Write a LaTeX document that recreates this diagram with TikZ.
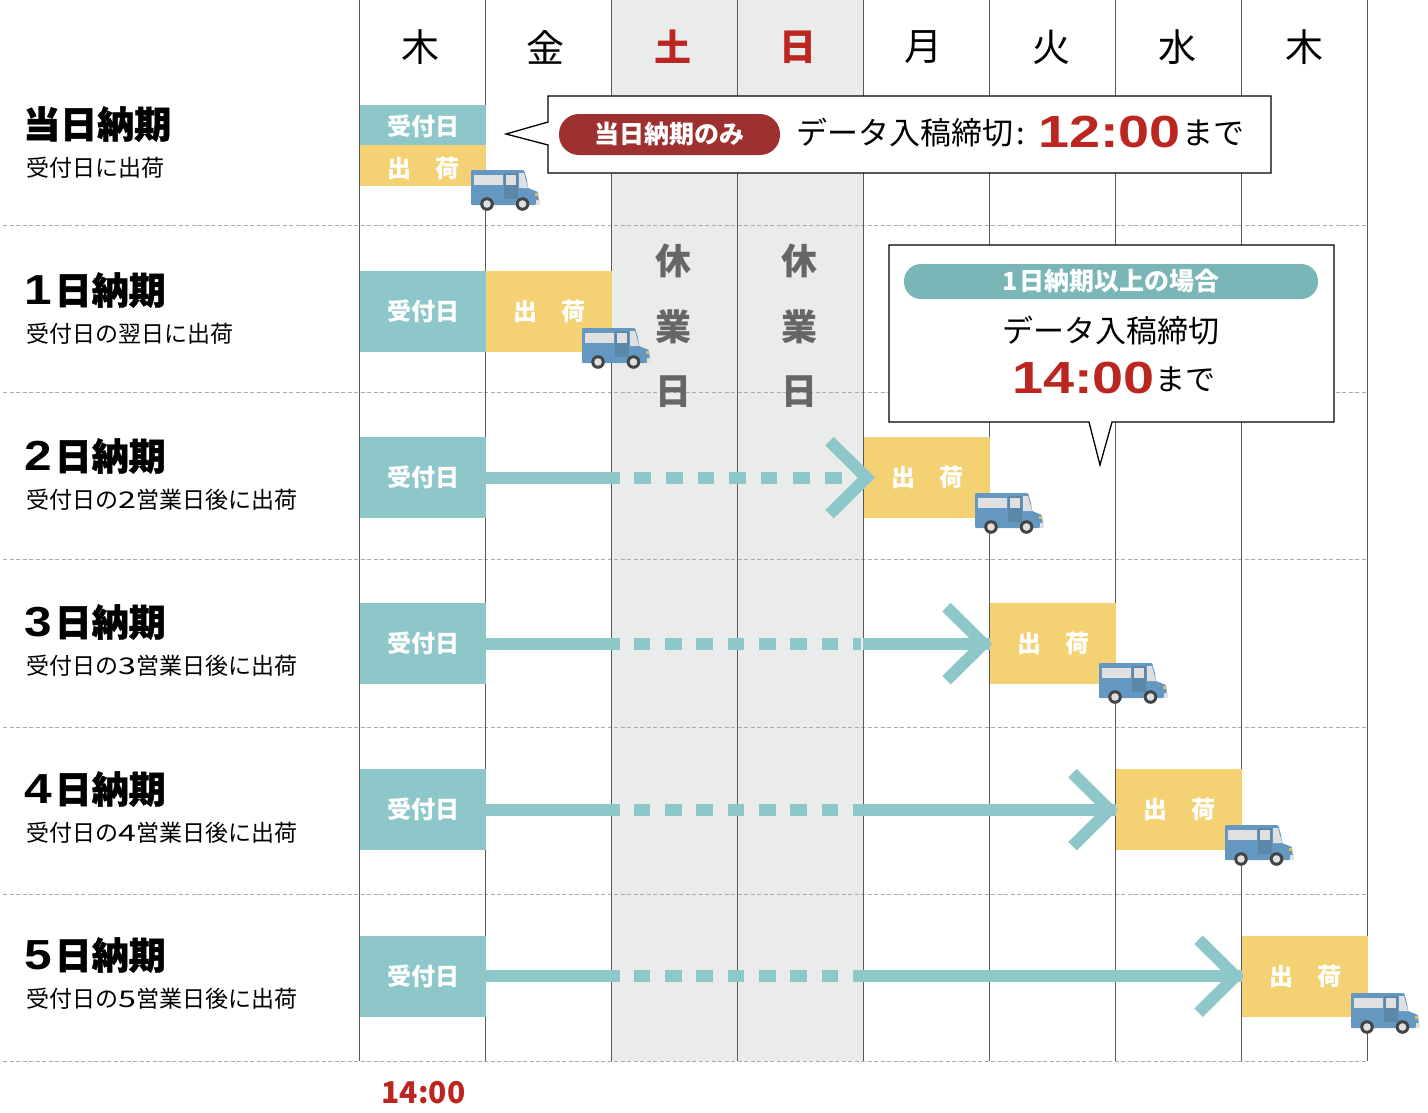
\documentclass[tikz,border=0pt]{standalone}
\usepackage{fontspec}
\setmainfont{Noto Sans CJK JP}
\newfontfamily\cjkh[BoldFeatures={FakeBold=1.2}]{Noto Sans CJK JP}
\newfontfamily\numf{Liberation Sans}
\newcommand\fsz[1]{\fontsize{#1}{#1}\selectfont}
\newcommand\bignum[1]{\textcolor{redtxt}{\numf\bfseries\fsz{45}\scalebox{1.24}[1]{#1}}}
\newcommand\titledigit[1]{{\numf\bfseries\fsz{42}\scalebox{1.18}[1]{#1}}}
\newcommand\subdigit[1]{\scalebox{1.4}[1]{#1}}
\definecolor{teal1}{HTML}{8EC7C9}
\definecolor{teal2}{HTML}{7AB6B8}
\definecolor{yell}{HTML}{F4D274}
\definecolor{greybg}{HTML}{EAECEB}
\definecolor{vline}{HTML}{585858}
\definecolor{hline}{HTML}{ABABAB}
\definecolor{redtxt}{HTML}{BC2620}
\definecolor{pillred}{HTML}{9E3030}
\definecolor{greytxt}{HTML}{666666}
\definecolor{truckb}{HTML}{6498C0}
\definecolor{truckd}{HTML}{5B88A8}
\definecolor{truckw}{HTML}{E0E0E0}
\definecolor{truckt}{HTML}{444444}
\definecolor{truckl}{HTML}{E8B860}
\tikzset{
  recv/.style={fill=teal1,text=white,font=\bfseries\fsz{24},minimum width=126pt,inner sep=0pt,anchor=north west},
  ship/.style={fill=yell,text=white,font=\bfseries\fsz{24},minimum width=126pt,inner sep=0pt,anchor=north west},
  dayhead/.style={font=\fsz{38},inner sep=0pt},
  dayred/.style={font=\bfseries\fsz{37},text=redtxt,inner sep=0pt},
  closed/.style={font=\bfseries\fsz{36},text=greytxt,inner sep=0pt},
  rowtitle/.style={font=\cjkh\bfseries\fsz{37},anchor=west,inner sep=0pt},
  rowsub/.style={font=\fsz{23},anchor=west,inner sep=0pt},
  sepline/.style={hline,dash pattern=on 4pt off 2.5pt,line width=1pt},
  colline/.style={vline,line width=1.3pt},
  shaft/.style={teal1,line width=12pt},
  chev/.style={teal1,line width=12pt,miter limit=10},
  balloon/.style={draw=black,fill=white,line width=1.3pt},
  dashtwo/.style={dash pattern=on 134pt off 14.5pt on 17pt off 15pt on 17pt off 15pt on 16pt off 15pt on 17pt off 15pt on 16pt off 16pt on 17pt off 15pt on 17pt off 200pt},
  dashgap/.style={dash pattern=on 134pt off 14.5pt on 16pt off 15pt on 17pt off 14pt on 17pt off 15pt on 16pt off 15pt on 17pt off 14pt on 17pt off 15pt on 16pt off 15pt on 8pt off 2pt on 400pt off 1pt},
  dashlong/.style={dash pattern=on 134pt off 14.5pt on 16pt off 15pt on 17pt off 14pt on 17pt off 15pt on 16pt off 15pt on 17pt off 14pt on 17pt off 15pt on 16pt off 15pt on 600pt off 1pt},
  truck/.pic={
    \fill[truckb,rounded corners=1pt] (0,0)--(53,0)--(56,10)--(57,18)--(67,22)--(68,32)--(64,35)--(0,35)--cycle;
    \fill[truckd] (33,3) rectangle (47,29);
    \fill[truckw] (3,5) rectangle (32,15);
    \fill[truckw] (35,5) rectangle (45,15);
    \fill[truckw] (48,3)--(53,3)--(57,18)--(48,18)--cycle;
    \fill[truckl] (64,23) rectangle (67,26);
    \fill[truckw] (65,30) rectangle (69,35);
    \fill[truckt] (16,34) circle (6.8);
    \fill[truckt] (51.5,34) circle (6.8);
    \fill[truckw] (16,34) circle (3.8);
    \fill[truckw] (51.5,34) circle (3.8);
  }
}
\begin{document}
\begin{tikzpicture}[x=1pt,y=-1pt]
\useasboundingbox (0,0) rectangle (1428,1112);
\fill[greybg] (611,0) rectangle (864,1061);
\foreach \yy in {225,392,559,727,894,1061}
  \draw[sepline] (3,\yy) -- (1367,\yy);
\foreach \xx in {359.5,485.5,611.5,737.5,863.5,989.5,1115.5,1241.5,1367.5}
  \draw[colline] (\xx,0) -- (\xx,1061);
% header
\node[dayhead] at (420.5,47) {木};
\node[dayhead] at (545.5,47) {金};
\node[dayred] at (672.5,47) {土};
\node[dayred] at (798,47) {日};
\node[dayhead] at (923,47) {月};
\node[dayhead] at (1051,47) {火};
\node[dayhead] at (1177,47) {水};
\node[dayhead] at (1304,47) {木};
% closed
\foreach \xx in {673,799}{
  \node[closed] at (\xx,261) {休};
  \node[closed] at (\xx,327) {業};
  \node[closed] at (\xx,392) {日};
}
% left labels
\node[rowtitle] at (23,124) {当日納期};
\node[rowsub] at (26.5,168) {受付日に出荷};
\node[rowtitle] at (24,290) {\titledigit{1}\hspace{3pt}日納期};
\node[rowsub] at (26.5,334) {受付日の翌日に出荷};
\node[rowtitle] at (24,456) {\titledigit{2}\hspace{3pt}日納期};
\node[rowsub] at (26.5,500) {受付日の\subdigit{2}営業日後に出荷};
\node[rowtitle] at (24,622) {\titledigit{3}\hspace{3pt}日納期};
\node[rowsub] at (26.5,666) {受付日の\subdigit{3}営業日後に出荷};
\node[rowtitle] at (24,789) {\titledigit{4}\hspace{3pt}日納期};
\node[rowsub] at (26.5,833) {受付日の\subdigit{4}営業日後に出荷};
\node[rowtitle] at (24,955) {\titledigit{5}\hspace{3pt}日納期};
\node[rowsub] at (26.5,999) {受付日の\subdigit{5}営業日後に出荷};
% boxes
\node[recv,minimum height=40pt,text height=20pt,text depth=0pt] (r0) at (359.5,105) {\hspace{1pt}受付日};
\node[ship,minimum height=41pt,text height=24pt,text depth=0pt] (s0) at (359.5,145) {\hspace{1pt}出　荷};
\node[recv,minimum height=81pt] (r1) at (359.5,271) {\hspace{1pt}受付日};
\node[ship,minimum height=81pt] (s1) at (485.5,271) {\hspace{1pt}出　荷};
\node[recv,minimum height=81pt] (r2) at (359.5,437) {\hspace{1pt}受付日};
\node[ship,minimum height=81pt] (s2) at (863.5,437) {\hspace{1pt}出　荷};
\node[recv,minimum height=81pt] (r3) at (359.5,603) {\hspace{1pt}受付日};
\node[ship,minimum height=81pt] (s3) at (989.5,603) {\hspace{1pt}出　荷};
\node[recv,minimum height=81pt] (r4) at (359.5,769) {\hspace{1pt}受付日};
\node[ship,minimum height=81pt] (s4) at (1115.5,769) {\hspace{1pt}出　荷};
\node[recv,minimum height=81pt] (r5) at (359.5,935.5) {\hspace{1pt}受付日};
\node[ship,minimum height=81pt] (s5) at (1241.5,935.5) {\hspace{1pt}出　荷};
% connectors
\draw[shaft,dashtwo] (r2.east) -- ([xshift=3pt]s2.west);
\draw[shaft,dashgap] (r3.east) -- (s3.west);
\draw[shaft,dashlong] (r4.east) -- (s4.west);
\draw[shaft,dashlong] (r5.east) -- (s5.west);
\draw[chev] ([shift={(-34pt,-36.5pt)}]s2.west) -- ([xshift=3pt]s2.west) -- ([shift={(-34pt,36.5pt)}]s2.west);
\draw[chev] ([shift={(-43pt,-36.5pt)}]s3.west) -- ([xshift=-6pt]s3.west) -- ([shift={(-43pt,36.5pt)}]s3.west);
\draw[chev] ([shift={(-43pt,-36.5pt)}]s4.west) -- ([xshift=-6pt]s4.west) -- ([shift={(-43pt,36.5pt)}]s4.west);
\draw[chev] ([shift={(-43pt,-36.5pt)}]s5.west) -- ([xshift=-6pt]s5.west) -- ([shift={(-43pt,36.5pt)}]s5.west);
% trucks
\pic at (471,170) {truck};
\pic at (582,328) {truck};
\pic at (975,493) {truck};
\pic at (1099,663) {truck};
\pic at (1225,825) {truck};
\pic at (1351,993) {truck};
% balloon 1
\draw[balloon] (548,96) -- (1271,96) -- (1271,173) -- (548,173) -- (548,145) -- (506,134) -- (548,122) -- cycle;
\node[fill=pillred,text=white,font=\bfseries\fsz{25},rounded corners=20pt,minimum width=221pt,minimum height=41pt,inner sep=0pt] (p1) at (669.5,134.5) {当日納期のみ};
\node[anchor=west,inner sep=0pt,font=\fsz{31}] (t1) at (796,133) {データ入稿締切\hspace{3pt}:};
\node[anchor=west,inner sep=0pt] (n1) at (1038,132.5) {\bignum{12:00}};
\node[anchor=west,inner sep=0pt,font=\fsz{31}] (u1) at (1182,133) {まで};
% balloon 2
\draw[balloon] (889,245) -- (1334,245) -- (1334,422) -- (1112,422) -- (1100,465) -- (1089,422) -- (889,422) -- cycle;
\node[fill=teal2,text=white,font=\bfseries\fsz{25},rounded corners=17pt,minimum width=414pt,minimum height=35pt,inner sep=0pt] (p2) at (1111,281.5) {1\hspace{2pt}日納期以上の場合};
\node[inner sep=0pt,font=\fsz{31}] (t2) at (1111,331) {データ入稿締切};
\node[anchor=west,inner sep=0pt] (n2) at (1012,378) {\bignum{14:00}};
\node[anchor=west,inner sep=0pt,font=\fsz{30}] (u2) at (1155,379) {まで};
% bottom time
\node[inner sep=0pt,font=\bfseries\fsz{30},text=redtxt] (tm) at (423.5,1093) {14:00};
\end{tikzpicture}
\end{document}
